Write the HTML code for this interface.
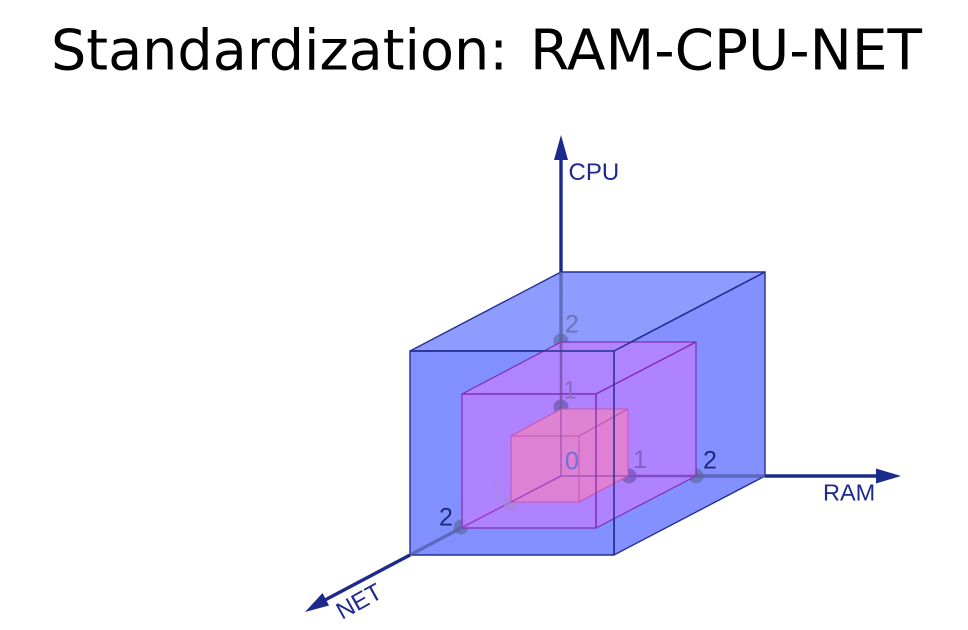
<!DOCTYPE html>
<html><head><meta charset="utf-8"><style>html,body{margin:0;padding:0;background:#fff;width:968px;height:630px;overflow:hidden}svg{display:block}</style></head>
<body>
<svg width="968" height="630" viewBox="0 0 968 630" xmlns="http://www.w3.org/2000/svg">
<rect width="968" height="630" fill="#fff"/>
<text x="51" y="69.5" font-family="'DejaVu Sans',sans-serif" font-size="56" fill="#000" textLength="457" lengthAdjust="spacingAndGlyphs">Standardization:</text>
<text x="530" y="69.5" font-family="'DejaVu Sans',sans-serif" font-size="56" fill="#000" textLength="392" lengthAdjust="spacingAndGlyphs">RAM-CPU-NET</text>

<!-- Axes outside the box -->
<g stroke="#1c2a8c" stroke-width="3.4" fill="none">
<line x1="561" y1="272" x2="561" y2="155"/>
<line x1="765" y1="476" x2="880" y2="476"/>
<line x1="410" y1="555" x2="325" y2="600"/>
</g>
<polygon points="561,135 568,160 554,160" fill="#1c2a8c"/>
<polygon points="901,476 876,468.5 876,483.5" fill="#1c2a8c"/>
<polygon points="305,612 322.5,593 329,605.5" fill="#1c2a8c"/>

<!-- Large box -->
<g stroke="#25308f" stroke-width="1.4" stroke-linejoin="round">
<polygon points="561,272 765,272 614,351 410,351" fill="#8f9cff"/>
<polygon points="765,272 765,476 614,555 614,351" fill="#8490ff"/>
<polygon points="410,351 614,351 614,555 410,555" fill="#8290ff"/>
</g>
<!-- Axes seen through the large box only -->
<line x1="561" y1="272" x2="561" y2="342" stroke="#4e5aa4" stroke-width="3.4" opacity=".72"/>
<line x1="696" y1="476" x2="765" y2="476" stroke="#4e5aa4" stroke-width="3.4" opacity=".72"/>
<line x1="410" y1="555" x2="461" y2="528" stroke="#4e5aa4" stroke-width="3.4" opacity=".72"/>
<circle cx="561" cy="341" r="7.5" fill="#5a6498" opacity=".62"/>
<circle cx="696" cy="476" r="7.5" fill="#5a6498" opacity=".62"/>
<circle cx="461" cy="527" r="7.5" fill="#5a6498" opacity=".62"/>

<!-- Medium box -->
<g stroke="#7f2fb0" stroke-width="1.2" stroke-linejoin="round">
<polygon points="561,342 696,342 596,394 462,394" fill="#b583ff" fill-opacity=".93"/>
<polygon points="696,342 696,476 596,528 596,394" fill="#b482ff" fill-opacity=".9"/>
<polygon points="462,394 596,394 596,528 462,528" fill="#b482ff" fill-opacity=".9"/>
</g>
<!-- Axes seen through the medium box -->
<line x1="561" y1="342" x2="561" y2="409" stroke="#7a4ca8" stroke-width="2.6" opacity=".8"/>
<line x1="628" y1="476" x2="696" y2="476" stroke="#7a3cb4" stroke-width="2.6" opacity=".8"/>
<line x1="461" y1="528" x2="511" y2="502" stroke="#a038c0" stroke-width="1.6" opacity=".9"/>
<circle cx="561" cy="407" r="7.5" fill="#6a5aa8" opacity=".72"/>
<circle cx="629" cy="476" r="7.5" fill="#7058b4" opacity=".72"/>
<circle cx="511" cy="503" r="7.5" fill="#a888d8" opacity=".7"/>

<!-- Small box -->
<g stroke="#c356b4" stroke-width="1" stroke-linejoin="round">
<polygon points="561,409 628,409 579,436 511,436" fill="#e082d2"/>
<polygon points="628,409 628,476 579,502 579,436" fill="#df80d4"/>
<polygon points="511,436 579,436 579,502 511,502" fill="#de80d4"/>
</g>
<!-- Axes inside the small box -->
<line x1="561" y1="409" x2="561" y2="476" stroke="#9a50b8" stroke-width="1.4" opacity=".85"/>
<line x1="561" y1="476" x2="628" y2="476" stroke="#9a50b8" stroke-width="1.4" opacity=".85"/>
<line x1="511" y1="502" x2="561" y2="476" stroke="#a03cc0" stroke-width="1.4" opacity=".9"/>
<line x1="579" y1="436" x2="579" y2="502" stroke="#c356b4" stroke-width="1" opacity=".8"/>

<!-- Front edges drawn through -->
<line x1="596" y1="394" x2="596" y2="528" stroke="#7f2fb0" stroke-width="1.3"/>
<line x1="462" y1="394" x2="596" y2="394" stroke="#7f2fb0" stroke-width="1.3"/>
<line x1="596" y1="394" x2="696" y2="342" stroke="#7f2fb0" stroke-width="1.3"/>
<line x1="410" y1="351" x2="614" y2="351" stroke="#25308f" stroke-width="1.5"/>
<line x1="614" y1="351" x2="614" y2="555" stroke="#25308f" stroke-width="1.5"/>
<line x1="614" y1="351" x2="765" y2="272" stroke="#25308f" stroke-width="1.5"/>

<!-- Labels -->
<g font-family="'Liberation Sans',sans-serif" fill="#1c2a8c">
<text x="568.5" y="180" font-size="24">CPU</text>
<text x="823" y="500.5" font-size="23.5">RAM</text>
<text transform="translate(342 620) rotate(-29)" font-size="24">NET</text>
</g>
<g font-family="'Liberation Sans',sans-serif" font-size="25">
<text x="439" y="525.5" fill="#1c2a7c">2</text>
<text x="703" y="468.5" fill="#1c2a7c">2</text>
<text x="565" y="332.5" fill="#6a74b4">2</text>
<text x="563" y="398.5" fill="#8a6cc4">1</text>
<text x="565" y="469.5" fill="#6e70d8">0</text>
<text x="633" y="468" fill="#8460c4">1</text>
<text x="491" y="500.5" fill="#a48ae0">1</text>
</g>
</svg>
</body></html>
